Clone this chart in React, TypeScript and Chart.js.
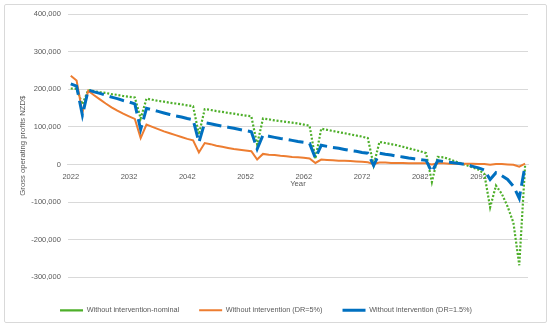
import React, { useEffect, useRef } from "react";
import { Chart, registerables } from "chart.js";

Chart.register(...registerables);

// Categories: years 2022..2100
const years: string[] = Array.from({ length: 79 }, (_, i) => String(2022 + i));

// Gross operating profits, NZD$ thousands
const nominalK = [
  202, 201, 160, 198, 195, 192, 190, 187, 185, 182, 180, 178,
  122, 175, 172, 169, 167, 164, 162, 160, 157, 155,
  80, 147, 145, 142, 140, 137, 135, 132, 130, 128,
  53, 122, 120, 117, 115, 113, 111, 109, 106, 103,
  15, 95, 92, 89, 86, 83, 80, 77, 74, 70,
  -2, 60, 57, 54, 51, 47, 43, 39, 35, 30,
  -47, 20, 19, 14, 8, 3, -2, -8, -14, -25,
  -114, -56, -78, -112, -155, -268, -3,
];

const dr5K = [
  236, 223, 138, 196, 184, 173, 162, 152, 143, 135, 128, 121,
  70, 106, 100, 94, 88, 83, 78, 73, 68, 64,
  32, 57, 54, 50, 47, 44, 41, 39, 37, 35,
  13, 28, 26, 25, 23, 22, 20, 19, 18, 16,
  4, 13, 12, 11, 10, 10, 9, 8, 7, 6,
  1, 5, 5, 4, 4, 4, 3, 3, 3, 3,
  0, 3, 3, 2, 2, 2, 2, 2, 1, 1,
  -1, 1, 1, 0, -1, -6, 2,
];

const dr15K = [
  214, 208, 131, 198, 193, 189, 184, 179, 175, 170, 166, 161,
  93, 149, 145, 141, 137, 133, 129, 126, 122, 119,
  59, 111, 108, 105, 102, 99, 96, 93, 90, 87,
  41, 78, 75, 72, 69, 67, 64, 61, 59, 56,
  17, 51, 48, 45, 43, 40, 37, 35, 32, 30,
  -3, 30, 27, 25, 22, 20, 17, 15, 13, 11,
  -20, 10, 8, 6, 4, 2, -1, -5, -9, -15,
  -40, -22, -30, -40, -58, -90, -2,
];

const seriesNames = [
  "Without intervention-nominal",
  "Without intervention (DR=5%)",
  "Without intervention (DR=1.5%)",
];

const yTicks = [-300000, -200000, -100000, 0, 100000, 200000, 300000, 400000];

const FONT = "'Liberation Sans', Arial, sans-serif";
const GRAY = "#595959";

const legendShift = {
  id: "legendShift",
  afterLayout(chart: any) {
    if (chart.legend) chart.legend.left -= 9;
  },
};

export default function App() {
  const ref = useRef<HTMLCanvasElement | null>(null);

  useEffect(() => {
    if (!ref.current) return;
    const chart = new Chart(ref.current, {
      type: "line",
      data: {
        labels: years,
        datasets: [
          {
            label: seriesNames[2],
            data: dr15K.map((v) => v * 1000),
            borderColor: "#0070C0",
            backgroundColor: "#0070C0",
            borderWidth: 3,
            borderDash: [15, 6],
            pointRadius: 0,
            tension: 0,
          },
          {
            label: seriesNames[1],
            data: dr5K.map((v) => v * 1000),
            borderColor: "#ED7D31",
            backgroundColor: "#ED7D31",
            borderWidth: 2,
            pointRadius: 0,
            tension: 0,
          },
          {
            label: seriesNames[0],
            data: nominalK.map((v) => v * 1000),
            borderColor: "#4EAF2A",
            backgroundColor: "#4EAF2A",
            borderWidth: 2.2,
            borderDash: [2, 1.8],
            pointRadius: 0,
            tension: 0,
          },
        ],
      },
      plugins: [legendShift],
      options: {
        animation: false,
        responsive: true,
        maintainAspectRatio: false,
        layout: { padding: { left: 13, right: 22, top: 14, bottom: 4 } },
        plugins: {
          tooltip: { enabled: false },
          legend: {
            position: "bottom",
            reverse: true,
            title: { display: true, text: "", font: { size: 2 }, padding: { top: 3.5, bottom: 3.5 } },
            labels: {
              usePointStyle: true,
              pointStyle: "line",
              pointStyleWidth: 23,
              padding: 20,
              color: GRAY,
              font: { family: FONT, size: 7.3 },
            },
          },
        },
        scales: {
          x: {
            type: "category",
            position: { y: 0 } as any,
            grid: { display: false, drawTicks: false, tickLength: 0 },
            border: { display: true, color: "#d9d9d9", width: 1 },
            offset: true,
            ticks: {
              autoSkip: false,
              maxRotation: 0,
              padding: 8,
              color: GRAY,
              font: { family: FONT, size: 7.5 },
              callback: (_v: any, i: number) => (i % 10 === 0 ? years[i] : null),
            },
            title: {
              display: true,
              text: "Year",
              color: GRAY,
              font: { family: FONT, size: 7.7 },
              padding: { top: -10, bottom: 0 },
            },
          },
          y: {
            min: yTicks[0],
            max: yTicks[yTicks.length - 1],
            afterBuildTicks: (axis: any) => {
              axis.ticks = yTicks.map((v) => ({ value: v }));
            },
            grid: { color: "#d9d9d9", drawTicks: false, tickLength: 0, lineWidth: 1 },
            border: { display: false },
            ticks: {
              padding: 7,
              color: GRAY,
              font: { family: FONT, size: 7.5 },
              callback: (v: any) => Number(v).toLocaleString("en-US"),
            },
            title: {
              display: true,
              text: "Gross operating profits NZD$",
              color: GRAY,
              font: { family: FONT, size: 7.7 },
              padding: { top: 5, bottom: -3 },
            },
          },
        },
      },
    });
    return () => chart.destroy();
  }, []);

  return (
    <div style={{ position: "absolute", left: 0, top: 0, width: 550, height: 328, background: "#fff" }}>
      <div style={{ position: "absolute", left: 0, top: 0, width: 550, height: 328 }}>
        <canvas ref={ref} />
      </div>
      <div
        style={{
          position: "absolute",
          left: 4,
          top: 4,
          width: 541,
          height: 317,
          border: "1px solid #d9d9d9",
          borderRadius: 2,
          pointerEvents: "none",
        }}
      />
    </div>
  );
}
